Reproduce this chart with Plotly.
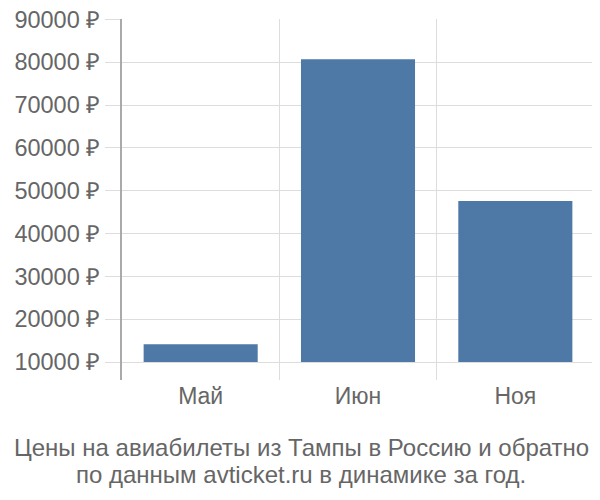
import plotly.graph_objects as go

months = ["Май", "Июн", "Ноя"]
prices = [14150, 80700, 47600]
base_price = 10000
y_ticks = [10000, 20000, 30000, 40000, 50000, 60000, 70000, 80000, 90000]
y_labels = [f"{v} ₽" for v in y_ticks]
title_lines = ["Цены на авиабилеты из Тампы в Россию и обратно",
               "по данным avticket.ru в динамике за год."]

# page is drawn with an ~8px body offset, so the margins are pulled in by 8
left, top, right, bottom = 114, 11, 586, 372
plot_h = bottom - top
plot_w = right - left

fig = go.Figure(go.Bar(
    x=months,
    y=[p - base_price for p in prices],
    base=base_price,
    marker=dict(color="#4e79a7", line=dict(width=0)),
    width=0.725,
    hoverinfo="x+y",
))

fig.update_layout(
    width=600, height=500,
    margin=dict(l=left, r=600 - right, t=top, b=500 - bottom, autoexpand=False),
    paper_bgcolor="white",
    plot_bgcolor="white",
    font=dict(family="Liberation Sans, Arial, sans-serif", color="#666666", size=23),
    showlegend=False,
    xaxis=dict(
        type="category",
        tickson="boundaries",
        showgrid=True,
        gridcolor="#dddddd",
        gridwidth=1,
        ticks="",
        showline=False,
        zeroline=False,
        range=[-0.5, 2.5],
        automargin=False,
        tickfont=dict(size=23, color="#666666"),
    ),
    yaxis=dict(
        range=[5800, 90080],
        tickvals=y_ticks,
        ticktext=y_labels,
        ticklabeloverflow="allow",
        showgrid=True,
        gridcolor="#dddddd",
        gridwidth=1,
        ticks="outside",
        ticklen=15,
        tickwidth=1,
        tickcolor="#dddddd",
        showline=True,
        linecolor="#aaaaaa",
        linewidth=2,
        zeroline=False,
        automargin=False,
        tickfont=dict(size=23.5, color="#666666"),
    ),
    annotations=[
        dict(text=line, xref="paper", yref="paper",
             x=(293 - left) / plot_w, y=(bottom - yy) / plot_h,
             xanchor="center", yanchor="middle",
             showarrow=False, font=dict(size=24, color="#666666"))
        for line, yy in zip(title_lines, [439, 466])
    ],
)

fig.write_html("out.html")
